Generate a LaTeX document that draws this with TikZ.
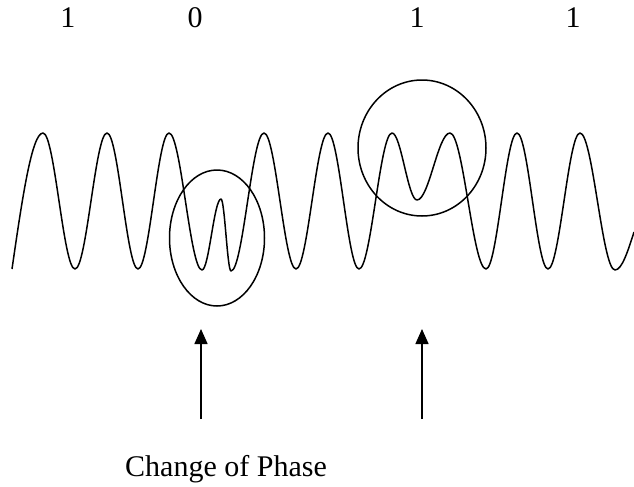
\documentclass[tikz,border=0pt]{standalone}
\usepackage{fontspec}
\setmainfont{Liberation Serif}
\usepackage{tikz}
\usetikzlibrary{arrows.meta,shapes.geometric}
\tikzset{
  lbl/.style={font=\fontsize{12}{14}\selectfont, inner sep=0pt, anchor=base, text=black},
  wave/.style={line width=0.6pt, line join=round, draw=black},
  ring/.style={ellipse, draw=black, line width=0.6pt, inner sep=0pt},
  arr/.style={-{Triangle[length=6pt,width=5.2pt]}, line width=0.6pt, draw=black},
}
\begin{document}
\begin{tikzpicture}[x=0.4pt,y=-0.4pt]
  \useasboundingbox (0,0) rectangle (634,487);
  \foreach \v/\x [count=\i] in {1/68,0/195,1/417,1/573}{\node[lbl] (bit\i) at (\x,27) {\v};}
  \draw[wave] (12,269) sin (43,133)
    foreach \x/\y [remember=\x as \px (initially 43), remember=\y as \py (initially 133)] in
      {75/269,107/133,138/269,169/133,202/270,221/199,231/271,264/133,296/269,328/133,
       359/269,392/133,417/200,450/133,486/269,517/133,548/269,580/133,615/270}
    { cos ({(\px+\x)/2},{(\py+\y)/2}) sin (\x,\y) }
    cos (634,232);
  \node[ring,minimum width=38pt,minimum height=54.4pt] (chg0) at (217,238) {};
  \node[ring,minimum width=51.2pt,minimum height=54.4pt] (chg1) at (422,148) {};
  \foreach \n/\x in {chg0/201,chg1/422}{
    \coordinate (\n-tail) at (\x,419);
    \coordinate (\n-tip) at (\x,329);
    \draw[arr] (\n-tail) -- (\n-tip);
  }
  \node[lbl] (cap) at (226,476) {Change of Phase};
\end{tikzpicture}
\end{document}
